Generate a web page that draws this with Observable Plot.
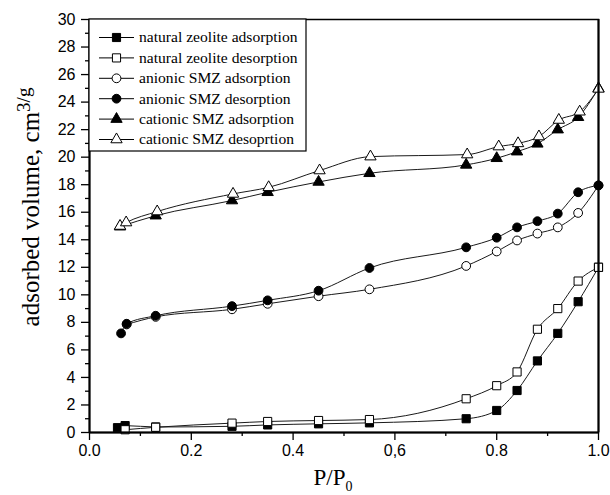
<!DOCTYPE html>
<html><head><meta charset="utf-8">
<script src="https://cdn.jsdelivr.net/npm/d3@7"></script>
<script src="https://cdn.jsdelivr.net/npm/@observablehq/plot@0.6"></script>
<style>body{margin:0;background:#fff}</style>
</head><body><div id="chart"></div>
<script>
const seriesNames = ["natural zeolite adsorption","natural zeolite desorption","anionic SMZ adsorption","anionic SMZ desorption","cationic SMZ adsorption","cationic SMZ desoprtion"];
const natAdsX = [0.055,0.07,0.13,0.28,0.35,0.45,0.55,0.74,0.80,0.84,0.88,0.92,0.96,1.0];
const natAdsY = [0.35,0.5,0.4,0.45,0.55,0.63,0.7,1.0,1.6,3.05,5.2,7.2,9.5,12.0];
const natDesX = [0.07,0.13,0.28,0.35,0.45,0.55,0.74,0.80,0.84,0.88,0.92,0.96,1.0];
const natDesY = [0.2,0.38,0.68,0.8,0.87,0.94,2.45,3.4,4.4,7.5,9.0,11.0,12.0];
const aniAdsX = [0.073,0.13,0.28,0.35,0.45,0.55,0.74,0.80,0.84,0.88,0.92,0.96,1.0];
const aniAdsY = [7.85,8.4,8.95,9.35,9.9,10.4,12.1,13.15,13.95,14.45,14.9,15.95,17.95];
const aniDesX = [0.062,0.073,0.13,0.28,0.35,0.45,0.55,0.74,0.80,0.84,0.88,0.92,0.96,1.0];
const aniDesY = [7.2,7.9,8.48,9.18,9.6,10.3,11.95,13.45,14.15,14.9,15.35,15.9,17.45,17.95];
const catAdsX = [0.06,0.13,0.28,0.35,0.45,0.55,0.74,0.80,0.84,0.88,0.92,0.96,1.0];
const catAdsY = [14.95,15.75,16.85,17.45,18.2,18.83,19.44,19.92,20.4,20.97,22.0,22.9,25.0];
const catDesX = [0.06,0.072,0.133,0.282,0.352,0.452,0.552,0.742,0.804,0.842,0.883,0.922,0.963,1.0];
const catDesY = [15.0,15.25,16.05,17.33,17.81,19.03,20.04,20.19,20.77,21.0,21.5,22.7,23.3,24.96];
const symbols = ["square","square","circle","circle","triangle","triangle"];
const fills = ["black","white","white","black","black","white"];
const xTickValues = [0,0.2,0.4,0.6,0.8,1.0];
const xTickLabels = ["0.0","0.2","0.4","0,6","0.8","1.0"];
const xMinorTicks = [0.1,0.3,0.5,0.7,0.9];
const yTickValues = [0,2,4,6,8,10,12,14,16,18,20,22,24,26,28,30];
const yMinorTicks = [1,3,5,7,9,11,13,15,17,19,21,23,25,27,29];

const seriesX = [natAdsX,natDesX,aniAdsX,aniDesX,catAdsX,catDesX];
const seriesY = [natAdsY,natDesY,aniAdsY,aniDesY,catAdsY,catDesY];
const rows = [];
seriesX.forEach((xs,i)=>xs.forEach((x,j)=>rows.push({series:seriesNames[i], i, x, y:seriesY[i][j]})));

const radius = {square:4.6, circle:4.4, triangle:4.2};
const marks = [];
for (let i=0;i<6;i++){
  const d = rows.filter(r=>r.i===i);
  marks.push(Plot.line(d,{x:"x",y:"y",curve:"monotone-x",stroke:"#1a1a1a",strokeWidth:1}));
}
for (let i=0;i<6;i++){
  const d = rows.filter(r=>r.i===i);
  marks.push(Plot.dot(d,{x:"x",y:"y",symbol:symbols[i],r:radius[symbols[i]],fill:fills[i],stroke:"black",strokeWidth:1}));
}
marks.push(Plot.frame({stroke:"black",strokeWidth:1.5}));
marks.push(Plot.ruleX([0],{stroke:"black",strokeWidth:2}));
marks.push(Plot.ruleY([0],{stroke:"black",strokeWidth:2}));
marks.push(Plot.ruleX([1],{stroke:"black",strokeWidth:2}));
marks.push(Plot.axisX({ticks:xTickValues,tickSize:8,tickPadding:4,strokeWidth:1.3,tickFormat:d=>xTickLabels[Math.round(d*5)],label:null}));
marks.push(Plot.axisX({ticks:xMinorTicks,tickSize:4,strokeWidth:1.3,tickFormat:()=>"",label:null}));
marks.push(Plot.axisY({ticks:yTickValues,tickSize:8,tickPadding:6,strokeWidth:1.3,label:null}));
marks.push(Plot.axisY({ticks:yMinorTicks,tickSize:4,strokeWidth:1.3,tickFormat:()=>"",label:null}));

const chart = Plot.plot({
  width:610,height:495,marginLeft:89,marginRight:12,marginTop:19,marginBottom:63,
  x:{domain:[0,1]}, y:{domain:[0,30]},
  style:{fontFamily:"'Liberation Sans', Arial, sans-serif",fontSize:"16px",background:"white",color:"black"},
  marks
});
document.getElementById("chart").appendChild(chart);

const svg = d3.select(chart);
const serif = "'Liberation Serif','Times New Roman',serif";
// x title
const xt = svg.append("text").attr("x",333).attr("y",485).attr("text-anchor","middle")
  .attr("font-family",serif).attr("font-size",23).attr("fill","black");
xt.append("tspan").text("P/P");
xt.append("tspan").attr("dy","0.4em").attr("font-size",14).text("0");
// y title
const yt = svg.append("text").attr("transform","translate(39,207) rotate(-90)").attr("text-anchor","middle")
  .attr("font-family",serif).attr("font-size",25).attr("fill","black");
yt.append("tspan").text("adsorbed volume, cm");
yt.append("tspan").attr("dy","-0.5em").attr("font-size",19).text("3/g");
// legend
const lg = svg.append("g");
lg.append("rect").attr("x",89).attr("y",19).attr("width",217).attr("height",132)
  .attr("fill","white").attr("stroke","black").attr("stroke-width",1.2);
seriesNames.forEach((name,i)=>{
  const y = 37.5 + 20.4*i;
  lg.append("line").attr("x1",99).attr("x2",134).attr("y1",y).attr("y2",y).attr("stroke","black").attr("stroke-width",1);
  const r = radius[symbols[i]];
  const sym = {square:d3.symbolSquare,circle:d3.symbolCircle,triangle:d3.symbolTriangle}[symbols[i]];
  lg.append("path").attr("d",d3.symbol(sym,Math.PI*r*r)()).attr("transform",`translate(116.5,${y})`)
    .attr("fill",fills[i]).attr("stroke","black").attr("stroke-width",1);
  lg.append("text").attr("x",139).attr("y",y).attr("dy","0.32em").attr("text-anchor","start").attr("font-family",serif)
    .attr("font-size",15.6).attr("fill","black").text(name);
});
</script>
</body></html>
